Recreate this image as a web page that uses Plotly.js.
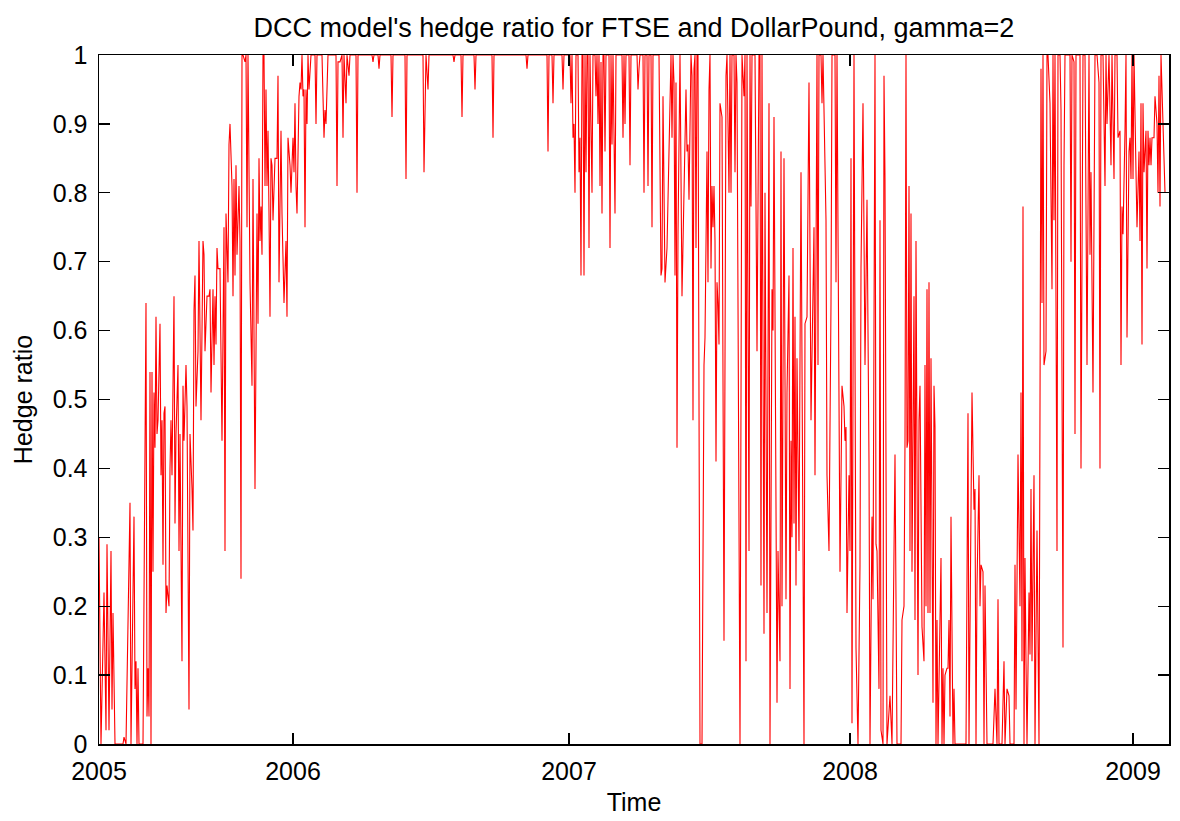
<!DOCTYPE html>
<html>
<head>
<meta charset="utf-8">
<script src="https://cdn.plot.ly/plotly-3.0.1.min.js"></script>
<style>html,body{margin:0;padding:0;background:#fff;}#chart{width:1180px;height:821px;}</style>
</head>
<body>
<div id="chart"></div>
<script>
// x = trading-day index from the start of 2005, y = hedge ratio
const seg2005a = [[0,0.30],[2,0],[5,0.22],[7,0.02],[8,0.29],[10,0.02],[12,0.28],[13,0.05],[14,0.19],[16,0],[24,0],[25,0.01],[27,0],[31,0.35],[32,0],[35,0.33],[36,0.08],[37,0.12],[38,0],[39,0.11],[40,0],[44,0],[47,0.64],[48,0.04],[49,0.11],[50,0.04],[51,0.54],[52,0],[53,0.54],[54,0.25],[55,0.51],[56,0.43],[57,0.62],[58,0.45],[59,0.47],[61,0.61],[62,0.39],[63,0.47],[64,0.26],[65,0.48],[66,0.49],[67,0.19],[68,0.23],[70,0.20],[71,0.40],[72,0.47],[73,0.39],[75,0.65],[76,0.32],[77,0.45],[79,0.55],[80,0.28],[81,0.45],[83,0.12],[84,0.52],[85,0.44],[87,0.55],[88,0.49],[90,0.05],[91,0.45],[93,0.37],[94,0.31],[95,0.63],[96,0.68],[97,0.49],[99,0.57],[100,0.73],[102,0.47],[104,0.73],[105,0.71],[106,0.57],[108,0.65],[110,0.65],[111,0.66],[112,0.51],[114,0.66],[115,0.55],[116,0.65],[117,0.58],[118,0.72],[119,0.69],[121,0.69],[123,0.44],[125,0.75],[126,0.28],[127,0.77],[129,0.67],[130,0.87],[131,0.90],[133,0.81],[134,0.65],[135,0.82],[136,0.68],[137,0.84],[138,0.71],[140,0.81],[141,0.73],[142,0.24],[143,1],[144,1],[146,0.99],[147,1],[148,0.75],[149,1],[151,0.67],[152,0.61],[153,0.52]];
const seg2005b = [[154,0.82],[156,0.37],[158,0.77],[159,0.61],[160,0.85],[161,0.73],[162,0.78],[163,0.71],[164,1],[165,1],[166,0.81],[167,0.95],[168,0.81],[169,0.89],[170,0.77],[171,0.62],[172,0.85],[173,0.84],[174,0.76],[176,0.85],[178,0.85],[179,0.97],[180,0.67],[182,0.89],[183,0.77],[185,0.64],[187,0.73],[188,0.62],[189,0.88],[191,0.84],[192,0.80],[193,0.84],[194,0.88],[195,0.83],[196,0.93],[197,0.81],[198,0.77],[200,0.94],[201,0.96],[202,0.95],[203,1],[204,0.94],[205,0.95],[206,0.75],[207,0.95],[208,0.90],[209,1],[210,0.95],[211,0.99],[212,1],[216,1],[217,0.90],[218,1],[223,1],[225,0.88],[226,0.92],[227,0.90],[228,0.97],[229,1],[237,1],[238,0.81],[239,0.99],[241,0.99],[243,1],[244,0.88],[245,1],[247,0.93],[248,1],[250,0.97],[251,1],[257,1],[258,0.80],[259,1],[273,1],[274,0.99],[275,1],[279,1],[280,0.98],[281,1],[292,1],[293,0.91],[294,1],[306,1]];
const seg2006 = [[307,0.82],[308,1],[324,1],[325,0.83],[327,1],[329,0.95],[330,1],[354,1],[355,0.99],[356,1],[362,1],[363,0.91],[364,1],[375,1],[376,0.95],[377,1],[393,1],[394,0.88],[395,1],[427,1],[428,0.98],[429,1],[448,1],[449,0.86],[450,1],[453,1],[454,0.93],[455,1],[463,1]];
const seg2007a = [[464,0.95],[465,1],[471,1],[472,0.93],[473,1],[474,0.88],[475,0.90],[476,0.80],[477,1],[479,1],[480,0.83],[481,0.88],[482,0.68],[483,1],[484,1],[485,0.68],[486,1],[487,0.83],[488,1],[489,1],[490,0.72],[491,1],[493,0.80],[494,1],[496,1],[497,0.94],[498,1],[499,0.90],[500,1],[501,0.81],[502,0.99],[503,0.77],[504,1],[505,1],[506,0.86],[507,1],[510,1],[511,0.72],[512,1],[513,0.87],[514,1],[516,0.77],[517,1],[523,1],[524,0.88],[525,1],[526,0.90],[527,1],[530,1],[531,0.84],[532,1],[538,1],[539,0.95],[540,0.98],[541,1],[544,1],[545,0.80],[546,1],[548,1],[549,0.81],[550,1],[552,1],[553,0.75],[554,1],[560,1],[562,0.68],[563,0.69],[564,0.94],[566,0.67],[568,0.72],[570,0.84],[571,0.94],[572,1],[573,0.88],[574,1],[575,0.96],[576,0.68],[577,0.96],[578,0.43],[579,0.74],[581,1],[583,0.65],[585,0.79],[587,0.95],[588,0.86],[589,0.87],[590,0.79],[591,0.87],[592,1],[593,0.97],[594,0.47],[595,0.98],[596,1],[597,0.72],[598,1],[599,1],[601,0],[603,0],[605,0.55],[606,0.59],[608,0.86],[609,0.67],[610,0.95],[611,1]];
const seg2007b = [[612,0.69],[613,0.81],[614,0.75],[615,0.81],[616,0.73],[617,0.41],[618,0.67],[619,0.64],[620,0.58],[621,0.93],[623,0.91],[625,0.15],[627,0.97],[628,1],[630,0.80],[631,1],[632,0.80],[633,1],[635,1],[636,0.83],[637,1],[638,0.96],[641,0],[643,1],[645,0.94],[646,1],[647,0.12],[648,1],[650,0.28],[651,1],[652,0.78],[653,1],[656,1],[658,0.57],[660,1],[661,1],[662,0.23],[663,1],[665,0.16],[666,0.80],[668,0.19],[670,0.93],[671,0],[673,0.66],[674,0.60],[675,0.91],[676,0.56],[678,0.06],[679,0.28],[681,0.12],[682,0.86],[683,0.20],[685,0.85],[687,0.21],[688,0.51],[690,0.68],[691,0.08],[692,0.44],[693,0.30],[694,0.72],[695,0.32],[696,0.62],[697,0.23],[698,0.56],[700,0.28],[702,0.83],[705,0],[706,0.61],[708,0.62],[710,0.96],[712,0.47],[715,0.75],[716,0.39],[718,1],[719,0.55],[720,1],[722,1],[723,0.93],[724,1],[727,0.76],[728,0.39],[730,0.28],[732,0.64],[733,1],[736,1],[737,0.67],[738,1],[741,0.25],[743,0.52],[745,0.49],[746,0.44],[747,0.46],[748,0.19],[750,0.39],[751,0.28],[752,0.85],[753,0.03],[755,1],[757,0.14],[759,0],[761,0.26],[762,0.69],[764,0.93]];
const seg2008a = [[766,0.55],[768,0.79],[770,0.41],[771,0],[773,0.33],[774,0.21],[776,1],[777,0.29],[778,0.28],[780,0.08],[781,0.76],[782,0.02],[784,0],[785,0.97],[786,0.82],[788,0],[791,0.07],[793,0],[796,0.42],[798,0],[802,0],[803,0.18],[805,0.20],[806,0.44],[807,1],[808,0.43],[809,0.44],[810,0.81],[811,0.28],[812,0.77],[813,0.25],[815,0.65],[816,0.18],[817,0.73],[819,0.10],[820,0.47],[821,0.52],[823,0.17],[825,0.12],[826,0.55],[827,0.20],[828,0.66],[829,0.19],[830,0.67],[831,0.19],[832,0.56],[834,0.06],[835,0.52],[836,0.46],[837,0],[838,0.18],[839,0],[840,0.11],[842,0.27],[843,0],[844,0.11],[845,0],[846,0.10],[848,0.11],[849,0.11],[850,0.18],[851,0.04],[852,0.33],[854,0],[855,0.08],[856,0],[867,0],[869,0.48],[870,0],[873,0.51],[875,0.34],[876,0.37],[877,0],[878,0.23],[880,0.39],[881,0.20],[882,0.26],[884,0.25],[885,0],[886,0.23],[888,0],[894,0],[896,0.08],[898,0],[899,0.21],[900,0],[903,0],[905,0.12],[906,0],[908,0.08],[910,0.07],[911,0],[915,0],[916,0.26],[917,0.05]];
const seg2008b = [[919,0.42],[921,0.20],[922,0.51],[923,0.12],[924,0.78],[925,0],[926,0.27],[927,0.12],[928,0],[930,0.22],[931,0.13],[932,0.37],[933,0.12],[935,0.39],[936,0],[938,0.31],[940,0],[942,0.98],[943,0.64],[944,1],[945,0.55],[947,0.57],[948,1],[949,1],[951,0.93],[953,0.66],[954,1],[955,0.76],[956,1],[958,0.28],[959,1],[961,1],[962,0.92],[964,0.14],[965,0.84],[966,1],[971,1],[972,0.70],[973,1],[975,0.99],[976,0.45],[977,1],[981,1],[982,0.40],[984,1],[986,1],[987,0.71],[988,0.55],[990,1],[991,0.71],[992,0.83],[993,0.71],[994,0.51],[996,1],[998,1],[1000,0.96],[1001,0.40],[1002,1],[1004,1],[1006,0.81],[1007,1],[1008,0.90],[1010,1],[1012,0.84],[1013,1],[1015,0.82],[1016,1],[1018,1],[1019,0.88],[1021,0.89],[1022,0.55],[1023,0.78],[1024,0.74],[1026,0.89],[1027,1],[1028,0.59],[1030,0.86],[1031,0.88],[1032,0.82],[1033,1],[1034,0.82],[1035,1],[1036,0.88],[1037,0.83],[1038,0.75],[1040,0.86],[1041,0.73],[1042,0.93],[1043,0.58],[1044,0.93],[1045,0.83],[1047,0.89],[1048,0.69],[1049,0.89],[1050,0.84],[1051,0.88],[1052,0.84],[1053,0.88],[1055,0.88],[1056,0.94],[1057,0.92],[1058,0.90],[1059,0.80],[1060,0.97],[1061,0.78],[1062,1],[1064,0.90],[1066,0.80]];

const yearTickPos = [0, 194, 470, 751, 1034];
const yearTickText = ['2005', '2006', '2007', '2008', '2009'];
const yTickVals = [0, 0.1, 0.2, 0.3, 0.4, 0.5, 0.6, 0.7, 0.8, 0.9, 1];

const all = [].concat(seg2005a, seg2005b, seg2006, seg2007a, seg2007b, seg2008a, seg2008b);
const xs = all.map(p => p[0]);
const ys = all.map(p => p[1]);

const FONT = 'Liberation Sans, Arial, sans-serif';

const trace = {
  x: xs, y: ys, type: 'scatter', mode: 'lines',
  line: {color: '#ff0000', width: 1.1},
  hoverinfo: 'skip', showlegend: false
};

const axisCommon = {
  showgrid: false, zeroline: false,
  showline: true, linecolor: '#000', linewidth: 1.5, mirror: 'ticks',
  ticks: 'inside', ticklen: 11, tickwidth: 1.2, tickcolor: '#000',
  tickfont: {family: FONT, size: 25, color: '#000'}
};

const layout = {
  width: 1180, height: 821,
  margin: {l: 99, r: 11, t: 55, b: 77},
  paper_bgcolor: '#fff', plot_bgcolor: '#fff',
  title: {text: "DCC model's hedge ratio for FTSE and DollarPound, gamma=2",
          font: {family: FONT, size: 27, color: '#000'},
          xref: 'paper', x: 0.5, xanchor: 'center', yref: 'container', y: 0.966, yanchor: 'middle'},
  xaxis: Object.assign({}, axisCommon, {
    range: [0, 1070], tickmode: 'array', tickvals: yearTickPos, ticktext: yearTickText,
    ticklabelstandoff: 4,
    title: {text: 'Time', font: {family: FONT, size: 25, color: '#000'}, standoff: 10}
  }),
  yaxis: Object.assign({}, axisCommon, {
    range: [0, 1], tickmode: 'array', tickvals: yTickVals,
    ticklabelstandoff: 5,
    title: {text: 'Hedge ratio', font: {family: FONT, size: 25, color: '#000'}, standoff: 13}
  })
};

Plotly.newPlot('chart', [trace], layout, {displayModeBar: false, staticPlot: true});
</script>
</body>
</html>
